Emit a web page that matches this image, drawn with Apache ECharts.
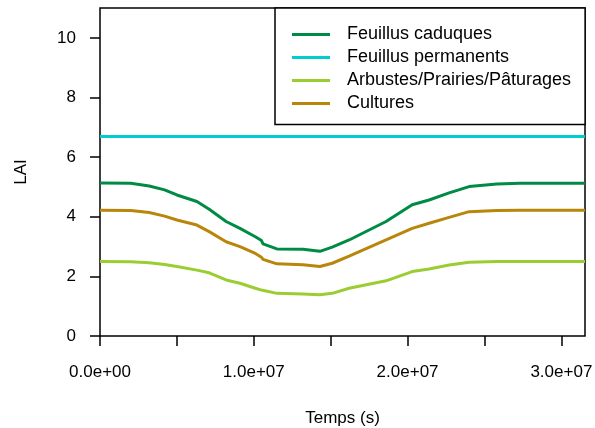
<!DOCTYPE html>
<html style="height: 100%">
   <head>
       <meta charset="utf-8">
       <script type="text/javascript" src="https://cdn.jsdelivr.net/npm/echarts@6/dist/echarts.min.js"></script>
   </head>
   <body style="height: 100%; width:100%; margin: 0">
       <div id="main" style="width: 595px;height:428px;"></div>

       <script type="text/javascript">

// temps en secondes
var temps = [0, 2.0e6, 3.2e6, 4.2e6, 5.0e6, 6.3e6, 7.1e6, 8.2e6, 9.1e6, 10.1e6, 10.5e6, 10.6e6,
             11.5e6, 13.2e6, 14.3e6, 15.1e6, 16.2e6, 18.6e6, 20.3e6, 21.4e6, 22.7e6, 24.0e6,
             25.8e6, 27.3e6, 31536000];

var caduques = [5.13, 5.12, 5.03, 4.90, 4.73, 4.51, 4.25, 3.84, 3.61, 3.33, 3.20, 3.09,
                2.92, 2.91, 2.84, 2.98, 3.22, 3.84, 4.40, 4.56, 4.80, 5.01, 5.10, 5.12, 5.12];
var permanents = [6.69, 6.69, 6.69, 6.69, 6.69, 6.69, 6.69, 6.69, 6.69, 6.69, 6.69, 6.69,
                  6.69, 6.69, 6.69, 6.69, 6.69, 6.69, 6.69, 6.69, 6.69, 6.69, 6.69, 6.69, 6.69];
var arbustes = [2.50, 2.49, 2.46, 2.40, 2.33, 2.21, 2.12, 1.88, 1.77, 1.60, 1.54, 1.50,
                1.43, 1.41, 1.38, 1.43, 1.60, 1.85, 2.16, 2.25, 2.38, 2.47, 2.50, 2.50, 2.50];
var cultures = [4.22, 4.21, 4.14, 4.02, 3.89, 3.72, 3.50, 3.16, 3.00, 2.77, 2.64, 2.57,
                2.42, 2.39, 2.33, 2.44, 2.68, 3.22, 3.61, 3.78, 3.98, 4.17, 4.21, 4.22, 4.22];

var noms = ['Feuillus caduques', 'Feuillus permanents', 'Arbustes/Prairies/Pâturages', 'Cultures'];
var couleurs = ['#008B45', '#00CDCD', '#9ACD32', '#B8860B'];

var xTicks = [0, 5e6, 1e7, 1.5e7, 2e7, 2.5e7, 3e7];
var xLabels = [0, 1e7, 2e7, 3e7];
var yTicks = [0, 2, 4, 6, 8, 10];

var police = 'Liberation Sans, Arial, sans-serif';

function paires(vals) {
    var out = [];
    for (var i = 0; i < temps.length; i++) {
        out.push([temps[i], vals[i]]);
    }
    return out;
}

function formatSci(v) {
    if (v == 0) { return '0.0e+00'; }
    var e = Math.floor(Math.log10(Math.abs(v)) + 1e-9);
    var m = v / Math.pow(10, e);
    return m.toFixed(1) + 'e+' + (e < 10 ? '0' + e : e);
}

var myChart = echarts.init(document.getElementById('main'), null, {renderer: 'canvas'});

var series = [];
var valeurs = [caduques, permanents, arbustes, cultures];
for (var k = 0; k < noms.length; k++) {
    series.push({
        name: noms[k],
        type: 'line',
        symbol: 'none',
        smooth: false,
        color: couleurs[k],
        lineStyle: { width: 3, color: couleurs[k] },
        data: paires(valeurs[k])
    });
}

var option = {
    animation: false,
    backgroundColor: '#fff',
    textStyle: { fontFamily: police },
    grid: {
        left: 100, right: 10, top: 8, bottom: 92,
        outerBoundsMode: 'none',
        show: true, borderColor: '#000', borderWidth: 1.5, backgroundColor: 'transparent'
    },
    legend: {
        orient: 'vertical',
        left: 275,
        top: 8,
        padding: [17.5, 14, 12, 17],
        icon: 'rect',
        itemWidth: 38,
        itemHeight: 3,
        itemGap: 5,
        borderColor: '#000',
        borderWidth: 1.5,
        borderRadius: 0,
        backgroundColor: '#fff',
        textStyle: { fontSize: 18, color: '#000', fontFamily: police, lineHeight: 18, padding: [0, 0, 0, 12] },
        data: noms
    },
    xAxis: {
        type: 'value',
        min: 0,
        max: 31536000,
        name: 'Temps (s)',
        nameLocation: 'middle',
        nameGap: 74,
        nameTextStyle: { fontSize: 17, color: '#000' },
        splitLine: { show: false },
        axisLine: { show: false },
        axisTick: {
            show: true, inside: false, length: 10,
            customValues: xTicks,
            lineStyle: { color: '#000', width: 1.5 }
        },
        axisLabel: {
            customValues: xLabels,
            margin: 28,
            fontSize: 17,
            color: '#000',
            formatter: formatSci
        }
    },
    yAxis: {
        type: 'value',
        min: 0,
        max: 11,
        name: 'LAI',
        nameLocation: 'middle',
        nameGap: 70,
        nameTextStyle: { fontSize: 17, color: '#000' },
        splitLine: { show: false },
        axisLine: { show: false },
        axisTick: {
            show: true, inside: false, length: 10,
            customValues: yTicks,
            lineStyle: { color: '#000', width: 1.5 }
        },
        axisLabel: {
            customValues: yTicks,
            margin: 24,
            fontSize: 17,
            color: '#000'
        }
    },
    series: series
};
myChart.setOption(option);

       </script>
   </body>
</html>
